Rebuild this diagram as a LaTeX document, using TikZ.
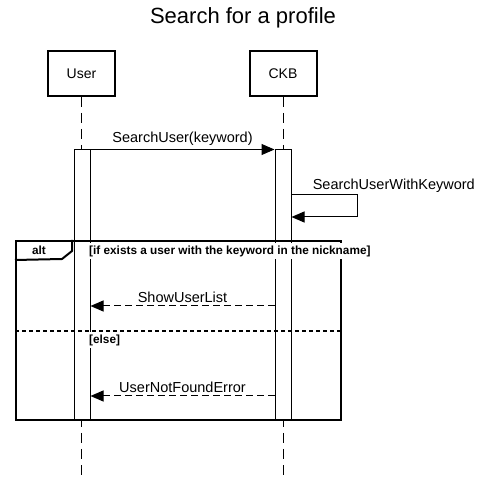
\documentclass[tikz,border=0pt]{standalone}
\usepackage{fontspec}
\setmainfont{Liberation Sans}
\usetikzlibrary{positioning,arrows.meta}

\begin{document}
\begin{tikzpicture}[x=1pt,y=-1pt,
  actor/.style={draw, line width=2pt, minimum width=67pt, minimum height=45pt,
    font=\fontsize{14}{16}\selectfont},
  lifeline/.style={line width=1pt, dash pattern=on 10pt off 6pt},
  bar/.style={draw, fill=white, line width=1pt, minimum width=16pt, inner sep=0pt},
  msg/.style={line width=1pt, -{Triangle[length=13pt,width=11pt]}},
  reply/.style={msg, dash pattern=on 7pt off 4pt},
  lbl/.style={font=\fontsize{14.5}{16}\selectfont, inner sep=1pt},
  cond/.style={font=\bfseries\fontsize{11.8}{13}\selectfont, fill=white,
    inner sep=1pt, minimum height=16pt, anchor=west}]
\useasboundingbox (0,0) rectangle (485,478);
\node[font=\fontsize{22}{26}\selectfont] (title) at (243,18) {Search for a profile};
% participants
\node[actor] (user) at (81.5,73.5) {User};
\node[actor] (ckb) at (283,73.5) {CKB};
\coordinate (userend) at (81.5,478);
\coordinate (ckbend) at (283,478);
\draw[lifeline] (user) -- (userend);
\draw[lifeline] (ckb) -- (ckbend);
% activations
\node[bar, minimum height=270pt] (ubar) at (82,285) {};
\node[bar, minimum height=270pt] (cbar) at (283,285) {};
% messages
\draw[msg] (ubar.north east) -- node[lbl, above=2pt] {SearchUser(keyword)} (cbar.north west);
\coordinate (self1) at (cbar.east |- 0,195);
\coordinate (self2) at (cbar.east |- 0,217);
\draw[msg] (self1) -- ++(66,0) node[lbl, above=1pt, pos=0.3, anchor=south west] {SearchUserWithKeyword} |- (self2);
% alt fragment
\node[draw, line width=2pt, minimum width=325pt, minimum height=179pt, inner sep=0pt] (alt) at (178.5,330.5) {};
\draw[line width=2pt] (alt.north west) ++(57,0) -- ++(0,11) -- ++(-10,8) -- (alt.west |- 0,260);
\node[cond, anchor=center] (altname) at (39,250.5) {alt};
\node[cond] (guard1) at (88,251) {[if exists a user with the keyword in the nickname]};
\draw[line width=2pt, dash pattern=on 4pt off 3pt] (alt.west |- 0,331) -- (alt.east |- 0,331);
\node[cond] (guard2) at (88,340) {[else]};
\coordinate (r1) at (0,306);
\coordinate (r2) at (0,396);
\draw[reply] (cbar.west |- r1) -- node[lbl, above=2pt] {ShowUserList} (ubar.east |- r1);
\draw[reply] (cbar.west |- r2) -- node[lbl, above=2pt] {UserNotFoundError} (ubar.east |- r2);
\end{tikzpicture}
\end{document}
